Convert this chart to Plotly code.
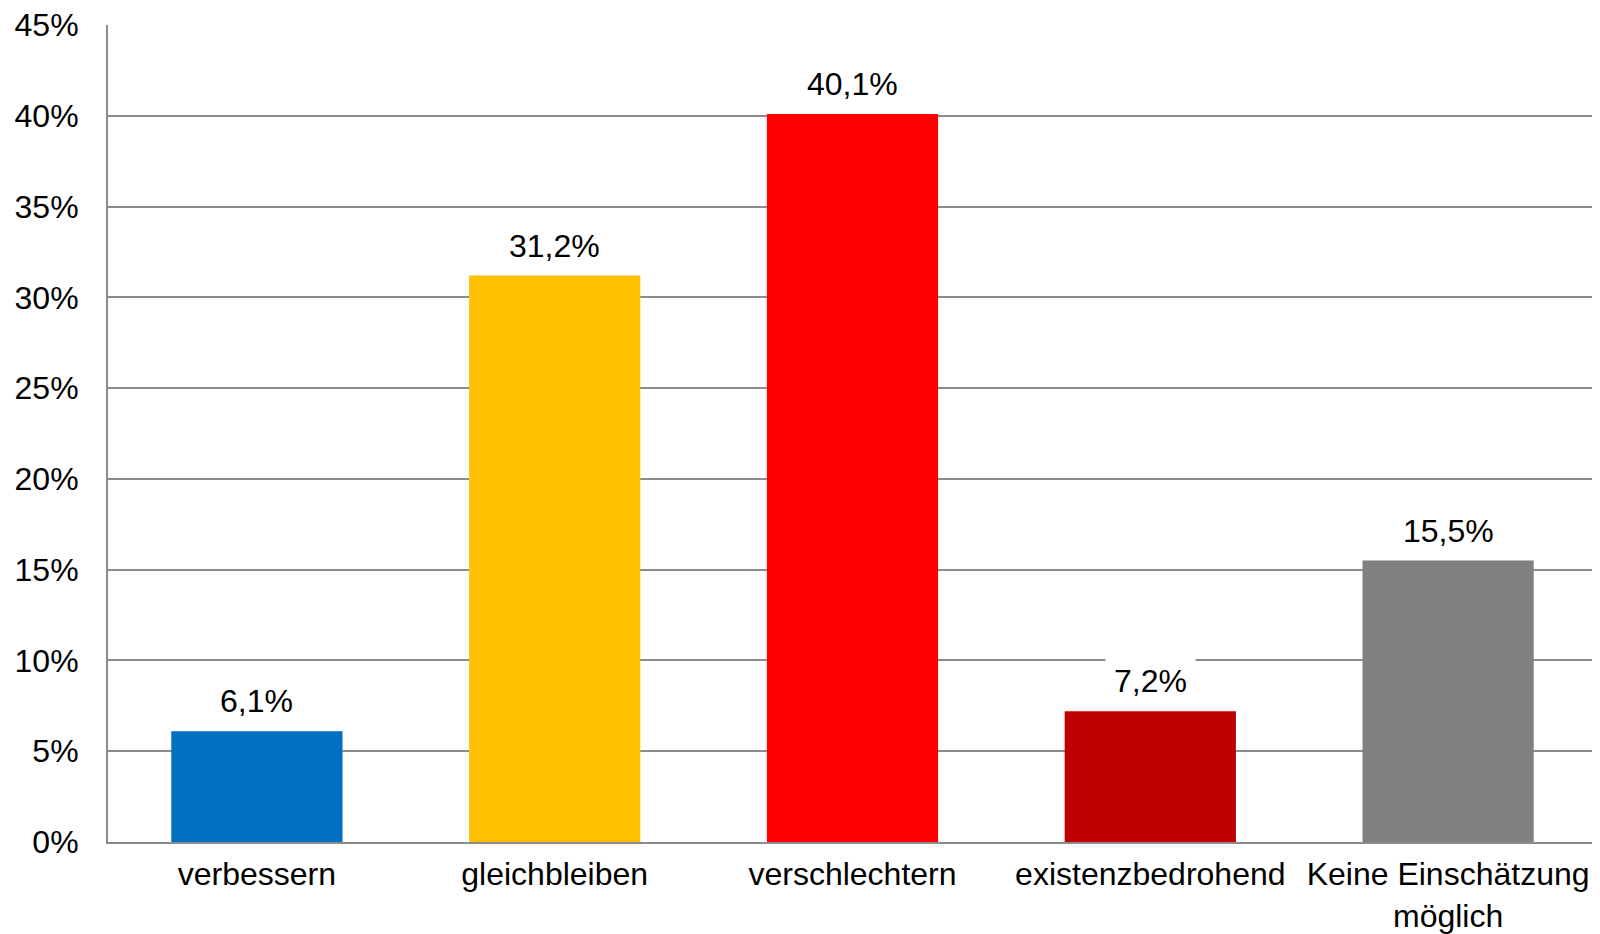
import plotly.graph_objects as go

categories = ["verbessern", "gleichbleiben", "verschlechtern", "existenzbedrohend", "Keine Einschätzung<br>möglich"]
values = [6.1, 31.2, 40.1, 7.2, 15.5]
labels = ["6,1%", "31,2%", "40,1%", "7,2%", "15,5%"]
colors = ["#0070C0", "#FFC000", "#FF0000", "#C00000", "#808080"]
tick_vals = [0, 5, 10, 15, 20, 25, 30, 35, 40, 45]
tick_text = ["0%", "5%", "10%", "15%", "20%", "25%", "30%", "35%", "40%", "45%"]

FONT = "Liberation Sans, Arial, sans-serif"
FS = 32

fig = go.Figure(go.Bar(x=categories, y=values, marker=dict(color=colors, line=dict(width=0)),
                       hoverinfo="skip", cliponaxis=False))

for c, v, t in zip(categories, values, labels):
    fig.add_annotation(x=c, y=v, text=t, showarrow=False, yanchor="bottom", yshift=3,
                       bgcolor="white", borderpad=8,
                       font=dict(family=FONT, size=FS, color="black"))

fig.update_layout(
    width=1600, height=934,
    margin=dict(l=100, r=11, t=17, b=100, autoexpand=False),
    paper_bgcolor="white", plot_bgcolor="white",
    bargap=0.425,
    showlegend=False,
    font=dict(family=FONT, size=FS, color="black"),
)
fig.update_xaxes(showline=True, linecolor="#8c8c8c", linewidth=2, showgrid=False,
                 ticks="", ticklabelstandoff=3, tickfont=dict(size=FS), automargin=False)
fig.update_yaxes(range=[0, 45], tickvals=tick_vals, ticktext=tick_text,
                 showgrid=True, gridcolor="#8c8c8c", gridwidth=2,
                 showline=True, linecolor="#8c8c8c", linewidth=2, zeroline=False,
                 ticks="", ticklabelstandoff=21, tickfont=dict(size=FS), automargin=False,
                 ticklabeloverflow="allow")

fig.write_html("out.html")
